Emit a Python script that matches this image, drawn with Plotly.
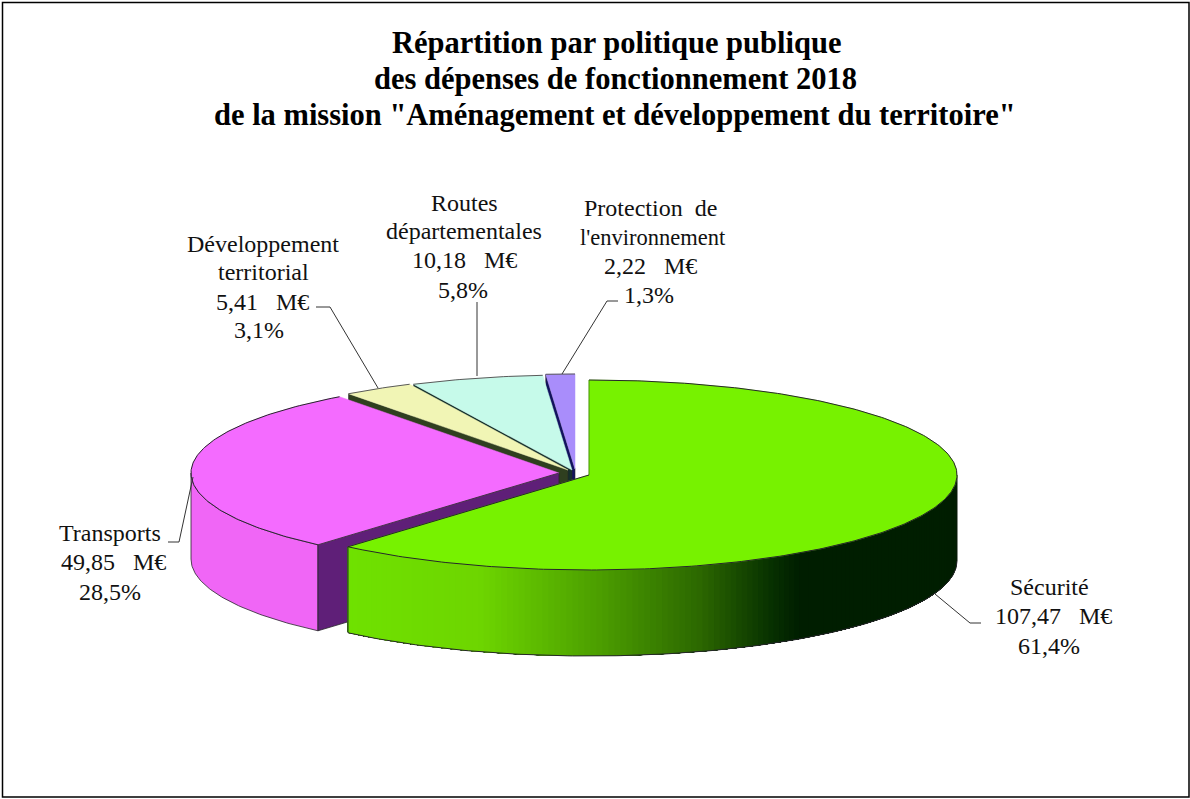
import math
import plotly.graph_objects as go

# ---- data ----
categories = ["Sécurité", "Transports", "Développement territorial", "Routes départementales", "Protection de l'environnement"]
values_meur = [107.47, 49.85, 5.41, 10.18, 2.22]
value_labels = ["107,47\u00a0\u00a0\u00a0M€", "49,85\u00a0\u00a0\u00a0M€", "5,41\u00a0\u00a0\u00a0M€", "10,18\u00a0\u00a0\u00a0M€", "2,22\u00a0\u00a0\u00a0M€"]
percent_labels = ["61,4%", "28,5%", "3,1%", "5,8%", "1,3%"]
title_lines = ["Répartition par politique publique",
               "des dépenses de fonctionnement 2018",
               "de la mission \"Aménagement et développement du territoire\""]
name_lines = [["Sécurité"], ["Transports"], ["Développement", "territorial"],
              ["Routes", "départementales"], ["Protection\u00a0\u00a0de", "l'environnement"]]

# ---- style / layout ----
RX, RY, DEPTH = 368, 95, 86
centers = [(589, 475), (559, 473), (568, 470), (572, 470), (575, 469)]
top_colors = ["#77F200", "#F46BFF", "#F1F5B5", "#C6FAEA", "#A98DFB"]
face_colors = ["#3C7A00", "#5F1F78", "#2F3F1F", "#14302C", "#12125E"]
pink_wall = "#F066F6"
EDGE = "#26262A"
green_stops = [(348, (112, 226, 0)), (480, (110, 214, 0)), (600, (76, 158, 0)),
               (700, (44, 104, 0)), (770, (8, 50, 0)), (800, (0, 30, 0)), (960, (0, 30, 0))]
label_pos = [[(1049, 587), (1053, 616), (1049, 646)],
             [(110, 533), (113, 562), (110, 592)],
             [(263, 244), (263, 272), (262, 302), (259, 330)],
             [(464, 203), (464, 231), (464, 260), (463, 290)],
             [(650, 208), (653, 237), (650, 266), (649, 295)]]
label_sizes = [[24, 24, 24], [24, 24, 24], [24, 24, 24, 24], [24, 24, 24, 24], [24, 22.5, 24, 24]]
leaders = [[(935, 594), (970, 623), (981, 623)],
           [(193, 477), (179, 542), (168, 542)],
           [(378, 388), (330, 307), (316, 307)],
           [(477, 376), (477, 302)],
           [(562, 374), (607, 301), (618, 301)]]
title_pos = [(616, 43), (615, 79), (615, 115)]


def pt(c, deg, dz=0):
    a = math.radians(deg)
    return c[0] + RX * math.sin(a), c[1] - RY * math.cos(a) + dz


def arc(c, a0, a1, dz=0, n=None):
    n = n or max(2, int(abs(a1 - a0) / 0.75))
    return [pt(c, a0 + (a1 - a0) * i / n, dz) for i in range(n + 1)]


def poly(fig, pts, fill=None, line=None, w=1.0):
    xs = [p[0] for p in pts]
    ys = [p[1] for p in pts]
    fig.add_trace(go.Scatter(
        x=xs, y=ys, mode="lines",
        fill="toself" if fill else None, fillcolor=fill,
        line=dict(color=line or fill, width=w),
        hoverinfo="skip", showlegend=False))


def green_at(x):
    for (x0, c0), (x1, c1) in zip(green_stops, green_stops[1:]):
        if x <= x1:
            t = max(0, (x - x0) / (x1 - x0))
            return "rgb(%d,%d,%d)" % tuple(c0[i] + (c1[i] - c0[i]) * t for i in range(3))
    return "rgb(0,30,0)"


total = sum(values_meur)
angles = [0]
for v in values_meur:
    angles.append(angles[-1] + 360 * v / total)

fig = go.Figure()

# slices, painted back to front
for i in [4, 3, 2, 1, 0]:
    c, a0, a1 = centers[i], angles[i], angles[i + 1]
    if i != 0:
        # cut face along the slice's leading edge
        p = pt(c, a0)
        face = [c, p, (p[0], p[1] + DEPTH), (c[0], c[1] + DEPTH), c]
        if i == 1:
            poly(fig, arc(c, a0, 270) + arc(c, 270, a0, DEPTH) + [p], pink_wall, EDGE, 0.8)
            poly(fig, face, face_colors[i], EDGE, 0.8)
        else:
            poly(fig, face, face_colors[i], EDGE, 0.6)
    else:
        # graded outer wall: each strip overpaints the rest of the wall, so no seams show
        steps = 140
        for s in range(steps):
            b0 = 90 + s * (a1 - 90) / steps
            b1 = 90 + (s + 1) * (a1 - 90) / steps
            col = green_at(pt(c, (b0 + b1) / 2)[0])
            poly(fig, arc(c, b0, a1, 0, 30) + arc(c, a1, b0, DEPTH, 30), col, col, 0.01)
        poly(fig, arc(c, 90, a1, DEPTH) + [pt(c, a1)], None, EDGE, 1.0)
        poly(fig, [pt(c, 90), pt(c, 90, DEPTH)], None, "#0A1A0A", 1.0)
    # top of the slice
    poly(fig, [c] + arc(c, a0, a1) + [c], top_colors[i], None, 0.5)
    poly(fig, arc(c, a0, a1), None, EDGE if i < 2 else "#5A5A5A", 1.0)
    if i == 0:
        poly(fig, [c, pt(c, a1)], None, EDGE, 1.0)
        poly(fig, [c, pt(c, 0)], None, "#3F7A10", 0.8)
    if i == 1:
        poly(fig, [c, pt(c, a0)], None, EDGE, 0.8)

for seg in leaders:
    poly(fig, seg, None, "#333333", 1.0)

anns = []
for (x, y), t in zip(title_pos, title_lines):
    anns.append(dict(x=x, y=y, text="<b>%s</b>" % t, showarrow=False, xanchor="center", yanchor="middle",
                     font=dict(family="Liberation Serif", size=30.5, color="#000000")))
for i, cat in enumerate(categories):
    lines = name_lines[i] + [value_labels[i], percent_labels[i]]
    for (x, y), t, sz in zip(label_pos[i], lines, label_sizes[i]):
        anns.append(dict(x=x, y=y, text=t, showarrow=False, xanchor="center", yanchor="middle",
                         font=dict(family="Liberation Serif", size=sz, color="#111111")))

fig.update_layout(
    width=1190, height=799, margin=dict(l=0, r=0, t=0, b=0),
    paper_bgcolor="white", plot_bgcolor="white", showlegend=False,
    xaxis=dict(range=[0, 1190], visible=False, fixedrange=True),
    yaxis=dict(range=[799, 0], visible=False, fixedrange=True),
    annotations=anns,
    shapes=[dict(type="rect", x0=2.5, y0=2.5, x1=1189, y1=797,
                 line=dict(color="#000000", width=1.5), layer="above")],
)
fig.write_html("out.html", config={"displayModeBar": False},
               post_script="document.body.style.margin='0';document.body.style.overflow='hidden';")
